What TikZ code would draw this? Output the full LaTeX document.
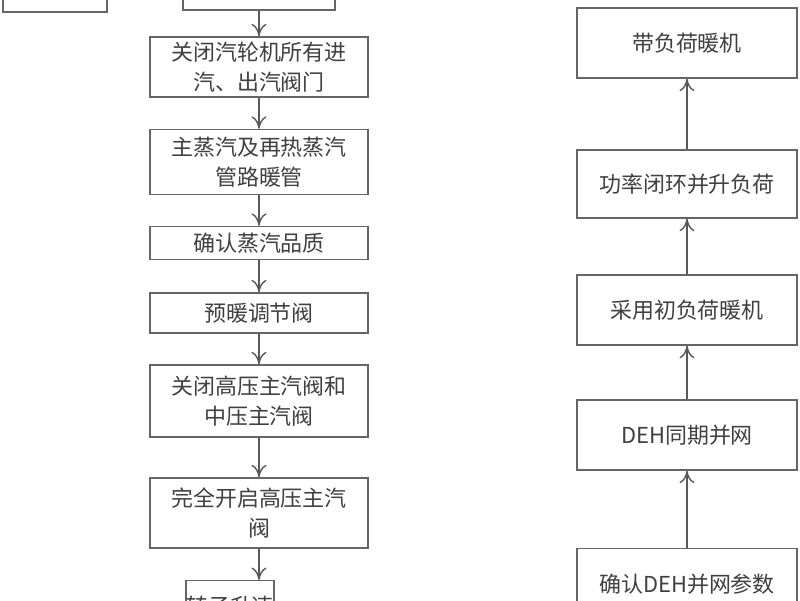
\documentclass[tikz,border=0pt]{standalone}
\usepackage{fontspec}
\setmainfont{Liberation Serif}
\newfontfamily\cjk{Noto Sans CJK SC}
\usetikzlibrary{arrows.meta}
\tikzset{stage/.style={draw=black!60,thick,fill=white,align=center,inner sep=0pt,font=\cjk\fontsize{12.5}{17}\selectfont\color{black!75}},
link/.style={draw=black!65,thick,-{To[length=2.5mm,width=3mm]}}}
\begin{document}
\begin{tikzpicture}[x=0.02cm,y=-0.02cm]
\useasboundingbox (0,0) rectangle (800,600);
\clip (0,0) rectangle (800,600);
\node[stage,minimum width=104*0.02cm,minimum height=40*0.02cm] (a) at (55,-8) {};
\node[stage,minimum width=152*0.02cm,minimum height=40*0.02cm] (b) at (259,-10) {};
\node[stage,minimum width=218*0.02cm,minimum height=60*0.02cm] (c) at (259,67) {关闭汽轮机所有进\\汽、出汽阀门};
\node[stage,minimum width=218*0.02cm,minimum height=65*0.02cm] (d) at (259,162) {主蒸汽及再热蒸汽\\管路暖管};
\node[stage,minimum width=218*0.02cm,minimum height=33*0.02cm] (e) at (259,243) {确认蒸汽品质};
\node[stage,minimum width=218*0.02cm,minimum height=40*0.02cm] (f) at (259,313) {预暖调节阀};
\node[stage,minimum width=218*0.02cm,minimum height=72*0.02cm] (g) at (259,401) {关闭高压主汽阀和\\中压主汽阀};
\node[stage,minimum width=218*0.02cm,minimum height=70*0.02cm] (h) at (259,513) {完全开启高压主汽\\阀};
\node[stage,minimum width=74*0.02cm,minimum height=50*0.02cm,anchor=north] (i) at (230,580) {转子升速};
\node[stage,minimum width=220*0.02cm,minimum height=70*0.02cm] (r1) at (687,43) {带负荷暖机};
\node[stage,minimum width=220*0.02cm,minimum height=68*0.02cm] (r2) at (687,184) {功率闭环并升负荷};
\node[stage,minimum width=220*0.02cm,minimum height=70*0.02cm] (r3) at (687,310) {采用初负荷暖机};
\node[stage,minimum width=220*0.02cm,minimum height=70*0.02cm] (r4) at (687,435) {DEH同期并网};
\node[stage,minimum width=220*0.02cm,minimum height=70*0.02cm,anchor=north] (r5) at (687,548) {确认DEH并网参数};
\draw[link] (b.south) -- (c.north);
\draw[link] (c.south) -- (d.north);
\draw[link] (d.south) -- (e.north);
\draw[link] (e.south) -- (f.north);
\draw[link] (f.south) -- (g.north);
\draw[link] (g.south) -- (h.north);
\draw[link] (h.south) -- (h.south|-i.north);
\draw[link] (r5.north) -- (r4.south);
\draw[link] (r4.north) -- (r3.south);
\draw[link] (r3.north) -- (r2.south);
\draw[link] (r2.north) -- (r1.south);
\end{tikzpicture}
\end{document}
